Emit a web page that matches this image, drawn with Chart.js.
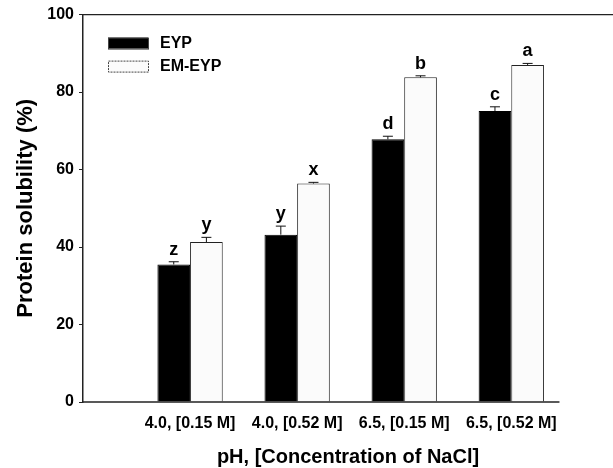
<!DOCTYPE html>
<html>
<head>
<meta charset="utf-8">
<script src="https://cdn.jsdelivr.net/npm/chart.js@4.4.1/dist/chart.umd.min.js"></script>
<style>
  html, body { margin: 0; padding: 0; background: #fff; }
  #wrap { width: 613px; height: 468px; }
</style>
</head>
<body>
<div id="wrap"><canvas id="solChart" width="613" height="468"></canvas></div>
<script>
// categories along the x axis
const categories = ["4.0, [0.15 M]", "4.0, [0.52 M]", "6.5, [0.15 M]", "6.5, [0.52 M]"];

// protein solubility (%)
const eypValues = [35.5, 43.2, 67.8, 75.1];
const eypErrors = [0.7, 2.2, 0.8, 1.1];
const emEypValues = [41.3, 56.4, 83.8, 87.0];
const emEypErrors = [1.2, 0.3, 0.4, 0.4];

// significance letters over the bars
const eypLetters = ["z", "y", "d", "c"];
const emEypLetters = ["y", "x", "b", "a"];

const yTicks = [0, 20, 40, 60, 80, 100];

const FONT = "'Liberation Sans', Arial, sans-serif";

function toPoints(values) {
    return values.map((v, i) => ({ x: i + 1, y: v }));
}

// error caps, letters, legend and frame lines
const extrasPlugin = {
    id: "extras",
    afterDatasetsDraw(chart) {
        const ctx = chart.ctx;
        const yScale = chart.scales.y;
        const xScale = chart.scales.x;
        const area = chart.chartArea;
        const errs = [eypErrors, emEypErrors];
        const letters = [eypLetters, emEypLetters];

        ctx.save();
        chart.data.datasets.forEach((ds, di) => {
            const meta = chart.getDatasetMeta(di);
            meta.data.forEach((bar, i) => {
                const val = ds.data[i].y;
                const topY = yScale.getPixelForValue(val + errs[di][i]);
                const x = bar.x;
                ctx.strokeStyle = "#111";
                ctx.lineWidth = 1;
                ctx.beginPath();
                ctx.moveTo(x, bar.y);
                ctx.lineTo(x, topY);
                ctx.moveTo(x - 5, topY);
                ctx.lineTo(x + 5, topY);
                ctx.stroke();

                ctx.fillStyle = "#000";
                ctx.font = "bold 18px " + FONT;
                ctx.textAlign = "center";
                ctx.textBaseline = "alphabetic";
                ctx.fillText(letters[di][i], x, topY - 7);
            });
        });

        // top frame line
        ctx.strokeStyle = "#222";
        ctx.lineWidth = 1.2;
        ctx.beginPath();
        ctx.moveTo(area.left, area.top);
        ctx.lineTo(area.right, area.top);
        ctx.stroke();

        // bottom axis line (ends short of the right edge)
        ctx.lineWidth = 1.5;
        ctx.beginPath();
        ctx.moveTo(area.left, area.bottom);
        ctx.lineTo(xScale.getPixelForValue(4.45), area.bottom);
        ctx.stroke();

        // legend
        const lx = area.left + 25;
        const rows = [area.top + 29, area.top + 52];
        chart.data.datasets.forEach((ds, di) => {
            const ry = rows[di];
            ctx.fillStyle = ds.backgroundColor;
            ctx.fillRect(lx, ry - 6, 40, 11);
            ctx.strokeStyle = "#444";
            ctx.lineWidth = 1;
            ctx.setLineDash(di === 1 ? [2, 1] : []);
            ctx.strokeRect(lx + 0.5, ry - 5.5, 40, 11);
            ctx.setLineDash([]);
            ctx.fillStyle = "#000";
            ctx.font = "bold 16px " + FONT;
            ctx.textAlign = "left";
            ctx.textBaseline = "middle";
            ctx.fillText(ds.label, lx + 52, ry);
        });
        ctx.restore();
    }
};

new Chart(document.getElementById("solChart"), {
    type: "bar",
    data: {
        datasets: [
            {
                label: "EYP",
                data: toPoints(eypValues),
                backgroundColor: "#000000",
                borderColor: "#000000",
                borderWidth: 1
            },
            {
                label: "EM-EYP",
                data: toPoints(emEypValues),
                backgroundColor: "#fbfbfb",
                borderColor: "#222222",
                borderWidth: 1
            }
        ]
    },
    options: {
        responsive: false,
        animation: false,
        layout: { padding: { top: 13, right: 0, bottom: 0, left: 0 } },
        categoryPercentage: 0.61,
        barPercentage: 1.0,
        plugins: {
            legend: { display: false },
            tooltip: { enabled: false }
        },
        scales: {
            x: {
                type: "linear",
                min: 0,
                max: 4.95,
                offset: false,
                grid: { display: false },
                border: { display: false },
                afterBuildTicks: (scale) => {
                    scale.ticks = categories.map((c, i) => ({ value: i + 1 }));
                },
                afterFit: (scale) => { scale.height = 66; },
                ticks: {
                    autoSkip: false,
                    maxRotation: 0,
                    padding: 4,
                    color: "#000",
                    font: { family: FONT, size: 16, weight: "bold" },
                    callback: (v) => categories[v - 1] || ""
                },
                title: {
                    display: true,
                    text: "pH, [Concentration of NaCl]",
                    color: "#000",
                    padding: { top: 0, bottom: 1 },
                    font: { family: FONT, size: 20, weight: "bold", lineHeight: 1 }
                }
            },
            y: {
                min: 0,
                max: 100,
                afterBuildTicks: (scale) => {
                    scale.ticks = yTicks.map(v => ({ value: v }));
                },
                afterFit: (scale) => { scale.width = 83; },
                grid: {
                    display: true,
                    drawOnChartArea: false,
                    drawTicks: true,
                    tickLength: 4,
                    color: "#222"
                },
                border: { display: true, color: "#222", width: 1.5 },
                ticks: {
                    padding: 5,
                    color: "#000",
                    font: { family: FONT, size: 16, weight: "bold" }
                },
                title: {
                    display: true,
                    text: "Protein solubility (%)",
                    color: "#000",
                    padding: { top: 15, bottom: 0 },
                    font: { family: FONT, size: 22, weight: "bold", lineHeight: 1 }
                }
            }
        }
    },
    plugins: [extrasPlugin]
});
</script>
</body>
</html>
